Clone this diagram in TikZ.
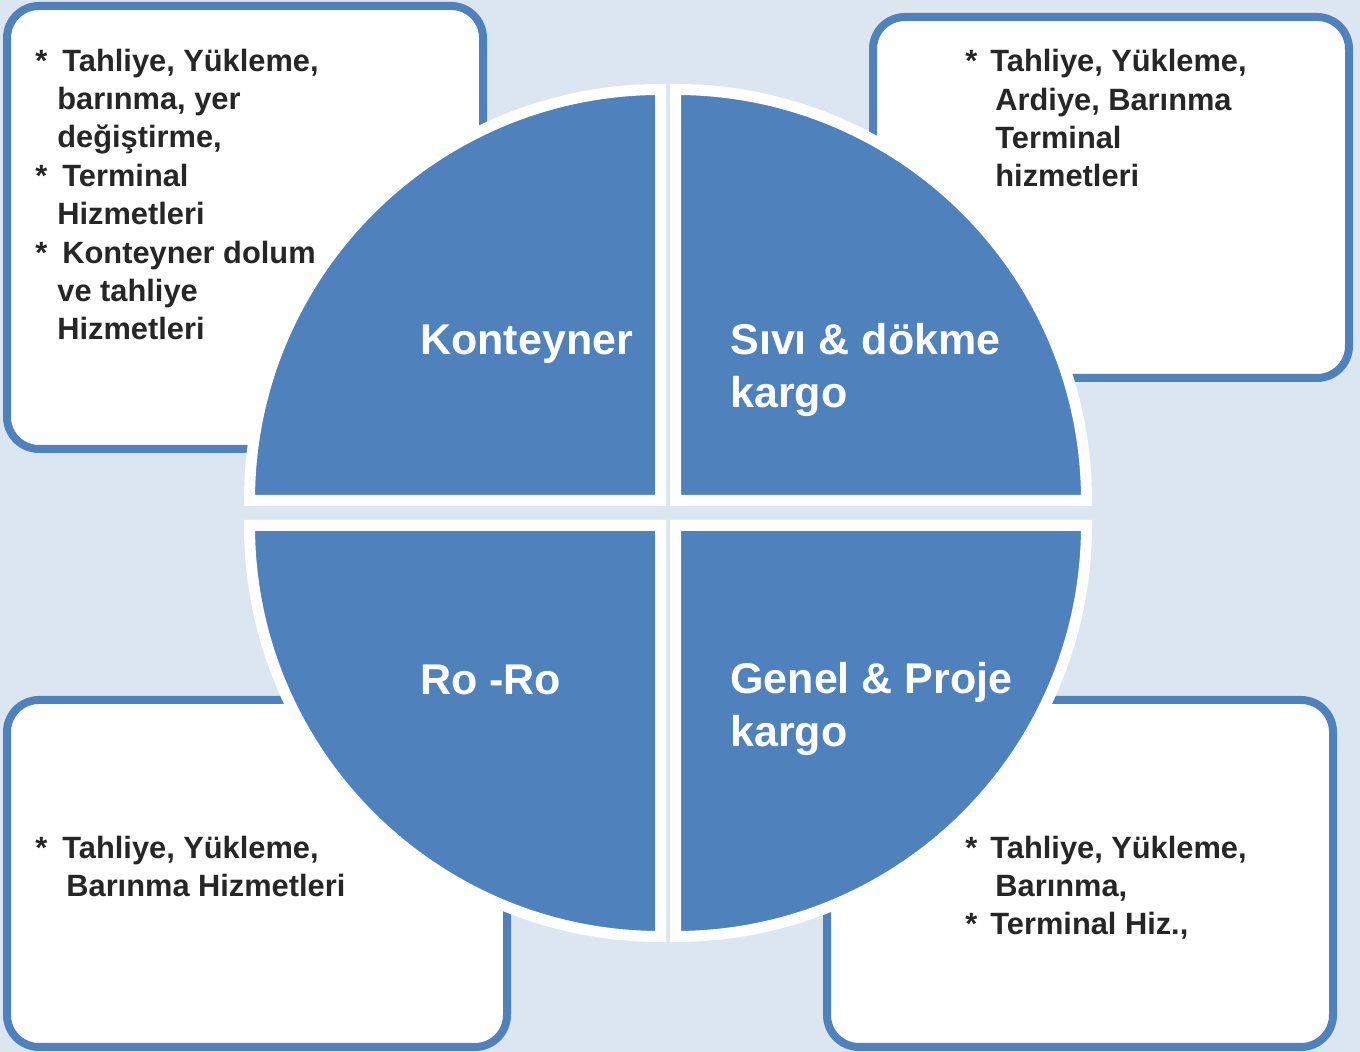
\documentclass[tikz,border=0pt]{standalone}
\usepackage{fontspec}
\setmainfont{Liberation Sans}
\usepackage{xcolor}
\usepackage{tikz}
\definecolor{bgblue}{HTML}{DCE6F1}
\definecolor{quadblue}{HTML}{4F81BD}
\definecolor{textgray}{HTML}{262626}
\tikzstyle{infobox} = [rectangle, rounded corners=16pt, draw=quadblue, line width=4pt, fill=white]
\tikzstyle{quarter} = [fill=quadblue, draw=white, line width=5.5pt, line join=miter]
\tikzstyle{sector} = [text=white, font=\fontsize{21.5}{26.5}\selectfont\bfseries, anchor=base west, inner sep=0pt, align=left]
\tikzstyle{services} = [text=textgray, font=\fontsize{15.4}{19.2}\selectfont\bfseries, anchor=base west, inner sep=0pt, align=left]
\newcommand{\svcstar}{\makebox[13.5pt][l]{*}}
\newcommand{\svcgap}[1]{\hspace*{#1}}

\begin{document}
\begin{tikzpicture}[x=0.5pt, y=0.5pt]
			\useasboundingbox (0,0) rectangle (1360,1052);
			\fill [bgblue] (0,0) rectangle (1360,1052);

			% service boxes
			\node (tlbox) [infobox, minimum width=238pt, minimum height=221.5pt] at (245,824.5) {};
			\node (trbox) [infobox, minimum width=238pt, minimum height=180.5pt] at (1111,854.5) {};
			\node (blbox) [infobox, minimum width=250pt, minimum height=173.5pt] at (257,178.5) {};
			\node (brbox) [infobox, minimum width=253pt, minimum height=173.5pt] at (1080,178.5) {};

			% four quarters of the disc
			\draw [quarter] (660.5,551.5) -- ++(-411,0) arc[start angle=180, end angle=90, radius=411] -- cycle;
			\draw [quarter] (675.5,551.5) -- ++(0,411) arc[start angle=90, end angle=0, radius=411] -- cycle;
			\draw [quarter] (660.5,526.5) -- ++(0,-411) arc[start angle=270, end angle=180, radius=411] -- cycle;
			\draw [quarter] (675.5,526.5) -- ++(411,0) arc[start angle=0, end angle=-90, radius=411] -- cycle;

			% sector names (base = last line)
			\node (kont) [sector] at (420,697) {Konteyner};
			\node (sivi) [sector] at (730,644) {Sıvı \& dökme\\kargo};
			\node (roro) [sector] at (420,357) {Ro -Ro};
			\node (genel) [sector] at (730,305) {Genel \& Proje\\kargo};

			\node (kontsvc) [services] at (35,712) {\svcstar Tahliye, Yükleme,\\ \svcgap{11pt}barınma, yer\\ \svcgap{11pt}değiştirme,\\ \svcstar Terminal\\ \svcgap{11pt}Hizmetleri\\ \svcstar Konteyner dolum\\ \svcgap{11pt}ve tahliye\\ \svcgap{11pt}Hizmetleri};
			\node (sivisvc) [services] at (965,865) {\makebox[12.5pt][l]{*}Tahliye, Yükleme,\\ \svcgap{15pt}Ardiye, Barınma\\ \svcgap{15pt}Terminal\\ \svcgap{15pt}hizmetleri};
			\node (rorosvc) [services] at (35,155) {\svcstar Tahliye, Yükleme,\\ \svcgap{15.5pt}Barınma Hizmetleri};
			\node (genelsvc) [services] at (965,117) {\makebox[12.5pt][l]{*}Tahliye, Yükleme,\\ \svcgap{15pt}Barınma,\\ \makebox[12.5pt][l]{*}Terminal Hiz.,};
		\end{tikzpicture}
\end{document}
